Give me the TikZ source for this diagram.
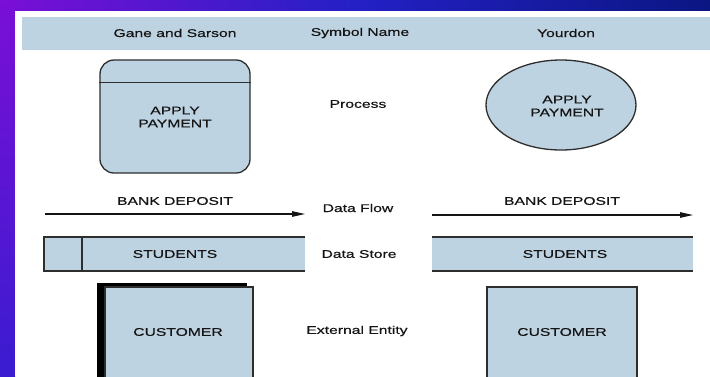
\documentclass[tikz,border=0pt]{standalone}
\usepackage{fontspec}
\setmainfont{Liberation Sans}[FakeStretch=1.4, FakeBold=0.5]
\usetikzlibrary{arrows.meta,shapes.geometric}

\definecolor{panel}{HTML}{BED3E1}
\definecolor{edge}{HTML}{2E2E2E}
\definecolor{ink}{HTML}{151515}
\definecolor{violet}{HTML}{7A0FD6}
\definecolor{royal}{HTML}{2420C6}
\definecolor{navy}{HTML}{0B1682}
\definecolor{deepblue}{HTML}{3A1CD0}

\tikzset{
  txt/.style={text=ink, inner sep=0pt, align=center, font=\fontsize{11.2}{13}\selectfont},
  headtxt/.style={txt, font=\fontsize{11.2}{13}\selectfont},
  shapebox/.style={draw=edge, line width=1.3pt, fill=panel, inner sep=0pt},
  flow/.style={draw=ink, line width=1.1pt, -{Triangle[length=13pt,width=5.5pt]}},
  storeline/.style={draw=edge, line width=1.3pt},
}

\begin{document}
\begin{tikzpicture}[x=1pt, y=-1pt]
  \useasboundingbox (0,0) rectangle (710,376);

  % frame: gradient strips along the top and left edges
  \shade[left color=violet, right color=navy, middle color=royal] (0,0) rectangle (710,11);
  \shade[top color=violet, bottom color=deepblue] (0,0) rectangle (15,376);
  \fill[white] (15,11) rectangle (710,376);

  % header band
  \fill[panel] (22,17) rectangle (710,50);
  \node[headtxt] (hgs) at (175,33) {Gane and Sarson};
  \node[headtxt] (hsym) at (360,33) {Symbol Name};
  \node[headtxt] (hyour) at (566,33) {Yourdon};

  % row labels
  \node[txt] (lproc)  at (358,104) {Process};
  \node[txt] (lflow)  at (358,208) {Data Flow};
  \node[txt] (lstore) at (359,254) {Data Store};
  \node[txt] (lent)   at (357,331) {External Entity};

  % process symbols
  \node[shapebox, rounded corners=14pt, minimum width=150pt, minimum height=113pt] (gsproc) at (175,116.5) {};
  \draw[storeline] ([yshift=-23pt]gsproc.north west) -- ([yshift=-23pt]gsproc.north east);
  \node[txt] (gsproctxt) at (175,117) {APPLY\\PAYMENT};

  \node[shapebox, ellipse, minimum width=150pt, minimum height=90pt] (ydproc) at (561,105) {};
  \node[txt] (ydproctxt) at (567,106) {APPLY\\PAYMENT};

  % data flows
  \coordinate (gsf1) at (45,214);
  \coordinate (gsf2) at (305,214);
  \draw[flow] (gsf1) -- (gsf2);
  \node[txt] (gsflowtxt) at (175,201) {BANK DEPOSIT};

  \coordinate (ydf1) at (432,215);
  \coordinate (ydf2) at (693,215);
  \draw[flow] (ydf1) -- (ydf2);
  \node[txt] (ydflowtxt) at (562,201) {BANK DEPOSIT};

  % data stores
  \fill[panel] (44,237) rectangle (305,271);
  \coordinate (gss1) at (305,237);
  \coordinate (gss2) at (44,237);
  \coordinate (gss3) at (44,271);
  \coordinate (gss4) at (305,271);
  \coordinate (gsd1) at (82,237);
  \coordinate (gsd2) at (82,271);
  \draw[storeline] (gss1) -- (gss2) -- (gss3) -- (gss4);
  \draw[storeline] (gsd1) -- (gsd2);
  \node[txt] (gsstoretxt) at (175,254) {STUDENTS};

  \fill[panel] (432,237) rectangle (693,271);
  \coordinate (yds1) at (432,237);
  \coordinate (yds2) at (693,237);
  \coordinate (yds3) at (432,271);
  \coordinate (yds4) at (693,271);
  \draw[storeline] (yds1) -- (yds2);
  \draw[storeline] (yds3) -- (yds4);
  \node[txt] (ydstoretxt) at (565,254) {STUDENTS};

  % external entities
  \fill[black] (97,283) rectangle (247,380);
  \draw[shapebox] (105,287) rectangle (253,382);
  \node[txt] (gsenttxt) at (178,332) {CUSTOMER};

  \draw[shapebox] (487,287) rectangle (637,382);
  \node[txt] (ydenttxt) at (562,332) {CUSTOMER};
\end{tikzpicture}
\end{document}
